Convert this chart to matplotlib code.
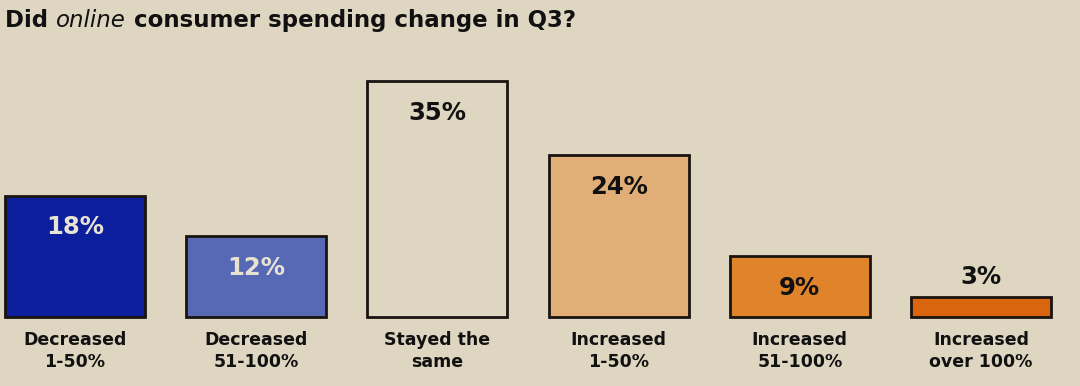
import matplotlib.pyplot as plt

categories = ["Decreased\n1-50%", "Decreased\n51-100%", "Stayed the\nsame",
              "Increased\n1-50%", "Increased\n51-100%", "Increased\nover 100%"]
values = [18, 12, 35, 24, 9, 3]
bar_colors = ["#0b1f9c", "#5768b4", "#ded6c0", "#e0ae76", "#e0842c", "#d9660f"]
value_colors = ["#e8e2d2", "#e8e2d2", "#111111", "#111111", "#111111", "#111111"]

bg = "#ded6c0"
font = "DejaVu Sans"

fig = plt.figure(figsize=(10.8, 3.86), dpi=100, facecolor=bg)
ax = fig.add_axes([0, 0, 1, 1])
ax.set_facecolor(bg)

# pixel mapping: bar centres 181 px apart, baseline at y=317
px_per_pct = 6.75
ax.set_xlim(-75 / 181.2, (1080 - 75) / 181.2)
ax.set_ylim(-69 / px_per_pct, (386 - 69) / px_per_pct)
ax.axis("off")

x = list(range(len(values)))
ax.bar(x, values, width=140 / 181.2, color=bar_colors, edgecolor="#1a1410", linewidth=2)

for i, v in enumerate(values):
    if v >= 6:
        ax.annotate(f"{v}%", (i, v), xytext=(0, -32), textcoords="offset pixels",
                    ha="center", va="center", fontsize=17.5, fontweight="bold",
                    color=value_colors[i], family=font)
    else:
        ax.annotate(f"{v}%", (i, v), xytext=(0, 20), textcoords="offset pixels",
                    ha="center", va="center", fontsize=17.5, fontweight="bold",
                    color=value_colors[i], family=font)
    ax.annotate(categories[i], (i, 0), xytext=(0, -14), textcoords="offset pixels",
                ha="center", va="top", fontsize=12.5, fontweight="bold",
                color="#111111", family=font, linespacing=1.3)

# title with italic word
t1 = fig.text(5 / 1080, 1 - 27 / 386, "Did ", fontsize=16.5, fontweight="bold",
              color="#111111", family=font, va="baseline")
t2 = ax.annotate("online", xy=(1, 0), xycoords=t1, fontsize=16.5, style="italic",
                 color="#111111", family=font, va="bottom")
t3 = ax.annotate(" consumer spending change in Q3?", xy=(1, 0), xycoords=t2,
                 fontsize=16.5, fontweight="bold", color="#111111", family=font,
                 va="bottom")

fig.savefig("out.png", dpi=100, facecolor=bg)
